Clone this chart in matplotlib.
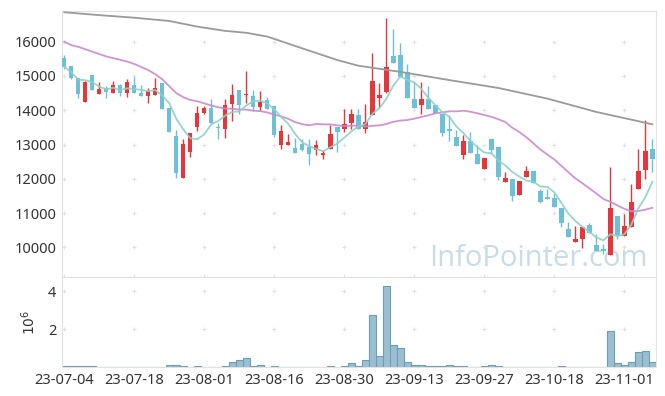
import numpy as np
import pandas as pd
import matplotlib
matplotlib.use('Agg')
import matplotlib.pyplot as plt

# daily prices (trading days, 23-07-04 .. 23-11-07)
opens = [15530, 15288, 14927, 14254, 15015, 14475, 14652, 14506, 14723, 14506,
         14723, 14517, 14418, 14459, 14790, 14066, 13237, 12015, 12768, 13510,
         13920, 14057, 13520, 13462, 14195, 14605, 14438, 14409, 14096, 14292,
         14116, 12973, 12973, 12906, 13003, 12924, 12847, 12700, 12856, 13510,
         13462, 13627, 13853, 13462, 13852, 14370, 14535, 15581, 15610, 15121,
         14321, 14166, 14342, 14146, 13902, 13462, 13217, 12701, 13100, 12730,
         12290, 13149, 12924, 11919, 11997, 11529, 12044, 12240, 11634, 11458,
         11429, 11136, 10532, 10170, 10240, 10657, 10073, 9940, 9770, 10922,
         10336, 10600, 11705, 12261, 12877]
highs = [15610, 15300, 14930, 14849, 15015, 14810, 14702, 14840, 14761, 14898,
         14957, 14751, 14652, 14928, 14790, 14066, 13413, 13149, 13345, 14137,
         14137, 14336, 13627, 14342, 14761, 14605, 15142, 14605, 14564, 14390,
         14116, 13560, 13296, 13199, 13170, 13170, 13140, 12847, 13560, 13510,
         14049, 14049, 14049, 14195, 15669, 14781, 16690, 16364, 15970, 15356,
         14810, 14810, 14693, 14146, 13902, 13873, 13413, 13266, 13354, 12994,
         12613, 13149, 12924, 12191, 11997, 11948, 12387, 12240, 11704, 11704,
         11577, 11136, 10727, 10630, 10580, 10700, 10387, 10110, 12330, 10922,
         10960, 11860, 12877, 13706, 13170]
lows = [15200, 14898, 14371, 14254, 14594, 14475, 14371, 14506, 14409, 14380,
        14506, 14418, 14224, 14459, 14037, 13363, 12027, 12015, 12622, 13383,
        13900, 13609, 13170, 13199, 13677, 13902, 14213, 13990, 13990, 14037,
        13217, 12877, 12973, 12748, 12800, 12408, 12680, 12584, 12856, 12777,
        13363, 13442, 13462, 13334, 13852, 14066, 14500, 15385, 14975, 14359,
        14066, 13900, 14049, 13920, 13246, 13100, 12944, 12584, 12748, 12437,
        12290, 12730, 11977, 11919, 11362, 11529, 12044, 11880, 11294, 11412,
        11165, 10580, 10316, 10170, 9976, 10404, 9897, 9800, 9770, 10240,
        10336, 10600, 11705, 11998, 12191]
closes = [15270, 14945, 14476, 14819, 14594, 14614, 14535, 14723, 14506, 14819,
          14506, 14418, 14556, 14635, 14037, 13363, 12162, 13003, 13345, 13911,
          14066, 13627, 13480, 14146, 14439, 14146, 14488, 14096, 14242, 14037,
          13266, 13384, 13070, 12748, 12826, 12730, 12973, 12748, 13316, 13363,
          13609, 13882, 13462, 13656, 14849, 14438, 15268, 15385, 14975, 14359,
          14066, 14342, 14049, 13920, 13346, 13384, 12944, 13100, 12748, 12437,
          12613, 12827, 12044, 12015, 11488, 11948, 12240, 11880, 11332, 11412,
          11165, 10697, 10316, 10257, 10580, 10404, 9897, 9880, 11148, 10336,
          10630, 11333, 12240, 12798, 12563]
# volume in millions of shares
volumes = [0.05, 0.05, 0.05, 0.05, 0.05, 0.01, 0.01, 0.04, 0.04, 0.04,
           0.04, 0.04, 0.04, 0.04, 0.04, 0.10, 0.14, 0.07, 0.03, 0.07,
           0.03, 0.03, 0.03, 0.09, 0.30, 0.41, 0.51, 0.09, 0.14, 0.03,
           0.09, 0.03, 0.01, 0.03, 0.01, 0.03, 0.03, 0.03, 0.09, 0.03,
           0.09, 0.20, 0.09, 0.37, 2.76, 0.62, 4.28, 1.20, 0.99, 0.30,
           0.14, 0.14, 0.09, 0.09, 0.09, 0.14, 0.09, 0.09, 0.03, 0.03,
           0.09, 0.14, 0.09, 0.03, 0.03, 0.01, 0.03, 0.01, 0.03, 0.03,
           0.03, 0.09, 0.03, 0.03, 0.03, 0.01, 0.03, 0.03, 1.89, 0.20,
           0.14, 0.30, 0.83, 0.88, 0.30]

date_labels = ['23-07-04', '23-07-18', '23-08-01', '23-08-16', '23-08-30',
               '23-09-13', '23-09-27', '23-10-18', '23-11-01']
tick_idx = [0, 10, 20, 30, 40, 50, 60, 70, 80]
price_ticks = [10000, 11000, 12000, 13000, 14000, 15000, 16000]
vol_ticks = [2, 4]

# 20-day average for the first 19 days (needs earlier data)
ma20_head = [16000, 15900, 15850, 15780, 15710, 15640, 15570, 15520, 15470, 15420,
             15350, 15260, 15170, 15050, 14900, 14700, 14500, 14380, 14300]
# 120-day average
ma120_idx = [0, 5, 10, 15, 19, 23, 26, 29, 34, 39, 42, 48, 55, 62, 69, 76, 84]
ma120_vals = [16860, 16775, 16700, 16605, 16440, 16315, 16260, 16150, 15805,
              15465, 15300, 15120, 14880, 14650, 14340, 13950, 13590]

up_col = '#e8353b'
down_col = '#6cc0d8'
txt_col = '#333333'
spine_col = '#e2e2e2'

x = np.arange(len(closes))
o = np.array(opens)
c = np.array(closes)
ma5 = pd.Series(closes).rolling(5, min_periods=1).mean().values
ma20 = pd.Series(closes).rolling(20).mean().values
ma20[:19] = ma20_head

plt.rcParams['font.family'] = ['Noto Sans', 'DejaVu Sans']

fig = plt.figure(figsize=(6.65, 3.96), dpi=100)
ax1 = fig.add_axes([0.0928, 0.2997, 0.8942, 0.6733])
ax2 = fig.add_axes([0.0928, 0.0725, 0.8942, 0.2272])

# watermark sits behind the candles
ax1.text(0.8098, 0.3283, 'InfoPointer.com', transform=fig.transFigure,
         fontsize=21, family='Open Sans', color='#c9dce6',
         ha='center', va='baseline', zorder=0.5)

cols = [up_col if c[i] >= o[i] else down_col for i in x]
ax1.vlines(x, lows, highs, colors=cols, lw=1, zorder=2)
body = np.maximum(np.abs(c - o), 30)
ax1.bar(x, body, bottom=np.minimum(o, c), width=0.62, color=cols, zorder=3)

ax1.plot(ma120_idx, ma120_vals, color='#9a9a9a', lw=1.3, zorder=4)
ax1.plot(x, ma20, color='#cc8ac8', lw=1.3, alpha=0.9, zorder=4)
ax1.plot(x, ma5, color='#8fd0c6', lw=1.3, alpha=0.9, zorder=4)

ax1.set_xlim(-0.37, 84.57)
ax1.set_ylim(9125, 16905)
ax1.set_yticks(price_ticks)
ax1.set_xticks(tick_idx)
ax1.set_xticklabels([])
gx, gy = np.meshgrid(tick_idx, price_ticks)
ax1.scatter(gx.ravel(), gy.ravel(), marker='+', s=12, color='#e2e2e2', lw=0.8, zorder=1)

ax2.bar(x, volumes, width=1.0, color='#9bbfd0', edgecolor='#6c9db6', lw=0.8)
ax2.set_xlim(-0.37, 84.57)
ax2.set_ylim(0, 4.74)
ax2.set_yticks(vol_ticks)
ax2.set_xticks(tick_idx)
ax2.set_xticklabels(date_labels)
gx, gy = np.meshgrid(tick_idx, vol_ticks)
ax2.scatter(gx.ravel(), gy.ravel(), marker='+', s=12, color='#e2e2e2', lw=0.8, zorder=0)
ax2.set_ylabel(r'$10^6$', color=txt_col, fontsize=10, labelpad=6)

for ax in (ax1, ax2):
    for s in ax.spines.values():
        s.set_color(spine_col)
    ax.tick_params(axis='both', length=0, colors=txt_col, labelsize=10.5, pad=4)
ax1.tick_params(axis='x', direction='inout', length=4, color='#e2e2e2')

fig.savefig('out.png', dpi=100, facecolor='white')
